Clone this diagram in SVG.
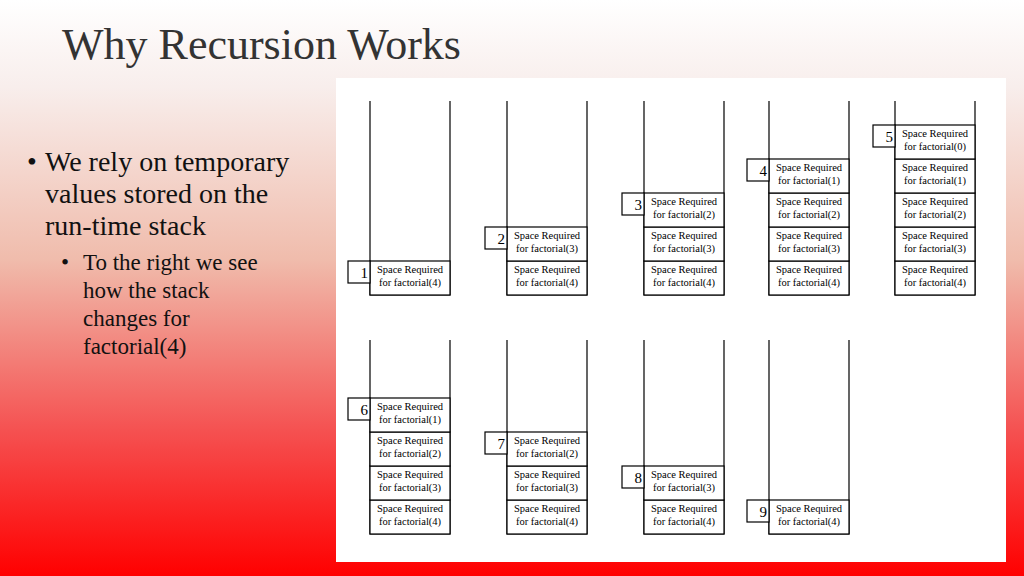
<svg xmlns="http://www.w3.org/2000/svg" width="1024" height="576" viewBox="0 0 1024 576">
<defs>
<linearGradient id="bg" x1="0" y1="0" x2="0" y2="1">
<stop offset="0" stop-color="#ffffff"/>
<stop offset="0.15" stop-color="#f8eeec"/>
<stop offset="0.45" stop-color="#f0bcac"/>
<stop offset="0.75" stop-color="#f55050"/>
<stop offset="1" stop-color="#ff0000"/>
</linearGradient>
<style>
.st{fill:none;stroke:#000;stroke-width:1.2}
.cell{fill:#fff;stroke:#000;stroke-width:1.2}
.ct{font-family:"Liberation Serif",serif;font-size:10.5px;fill:#000;text-anchor:middle}
.nb{fill:#fff;stroke:#000;stroke-width:1.2}
.nt{font-family:"Liberation Serif",serif;font-size:15px;fill:#000;text-anchor:end}
.b1{font-family:"Liberation Serif",serif;font-size:28px;fill:#111}
.b2{font-family:"Liberation Serif",serif;font-size:23px;fill:#111}
</style>
</defs>
<rect width="1024" height="576" fill="url(#bg)"/>
<text x="62" y="59" font-family="Liberation Serif,serif" font-size="44" fill="#333">Why Recursion Works</text>
<g id="bullets">
<text class="b1" x="27" y="171">•</text>
<text class="b1" x="45" y="171">We rely on temporary</text>
<text class="b1" x="45" y="203">values stored on the</text>
<text class="b1" x="45" y="235">run-time stack</text>
<text class="b2" x="61" y="270">•</text>
<text class="b2" x="83" y="270">To the right we see</text>
<text class="b2" x="83" y="298">how the stack</text>
<text class="b2" x="83" y="326">changes for</text>
<text class="b2" x="83" y="354">factorial(4)</text>
</g>
<rect x="336" y="78" width="670" height="484" fill="#fff"/>
<g id="connectors"></g>
<!-- top row -->
<g id="s1"><path class="st" d="M370 101V295H450V101"/>
<rect class="cell" x="370" y="261" width="80" height="34"/><text class="ct" x="410" y="273">Space  Required</text><text class="ct" x="410" y="286">for factorial(4)</text>
<rect class="nb" x="348" y="261" width="22" height="22"/><text class="nt" x="368" y="278">1</text></g>
<g id="s2"><path class="st" d="M507 101V295H587V101"/>
<rect class="cell" x="507" y="261" width="80" height="34"/><text class="ct" x="547" y="273">Space  Required</text><text class="ct" x="547" y="286">for factorial(4)</text>
<rect class="cell" x="507" y="227" width="80" height="34"/><text class="ct" x="547" y="239">Space  Required</text><text class="ct" x="547" y="252">for factorial(3)</text>
<rect class="nb" x="485" y="227" width="22" height="22"/><text class="nt" x="505" y="244">2</text></g>
<g id="s3"><path class="st" d="M644 101V295H724V101"/>
<rect class="cell" x="644" y="261" width="80" height="34"/><text class="ct" x="684" y="273">Space  Required</text><text class="ct" x="684" y="286">for factorial(4)</text>
<rect class="cell" x="644" y="227" width="80" height="34"/><text class="ct" x="684" y="239">Space  Required</text><text class="ct" x="684" y="252">for factorial(3)</text>
<rect class="cell" x="644" y="193" width="80" height="34"/><text class="ct" x="684" y="205">Space  Required</text><text class="ct" x="684" y="218">for factorial(2)</text>
<rect class="nb" x="622" y="193" width="22" height="22"/><text class="nt" x="642" y="210">3</text></g>
<g id="s4"><path class="st" d="M769 101V295H849V101"/>
<rect class="cell" x="769" y="261" width="80" height="34"/><text class="ct" x="809" y="273">Space  Required</text><text class="ct" x="809" y="286">for factorial(4)</text>
<rect class="cell" x="769" y="227" width="80" height="34"/><text class="ct" x="809" y="239">Space  Required</text><text class="ct" x="809" y="252">for factorial(3)</text>
<rect class="cell" x="769" y="193" width="80" height="34"/><text class="ct" x="809" y="205">Space  Required</text><text class="ct" x="809" y="218">for factorial(2)</text>
<rect class="cell" x="769" y="159" width="80" height="34"/><text class="ct" x="809" y="171">Space  Required</text><text class="ct" x="809" y="184">for factorial(1)</text>
<rect class="nb" x="747" y="159" width="22" height="22"/><text class="nt" x="767" y="176">4</text></g>
<g id="s5"><path class="st" d="M895 101V295H975V101"/>
<rect class="cell" x="895" y="261" width="80" height="34"/><text class="ct" x="935" y="273">Space  Required</text><text class="ct" x="935" y="286">for factorial(4)</text>
<rect class="cell" x="895" y="227" width="80" height="34"/><text class="ct" x="935" y="239">Space  Required</text><text class="ct" x="935" y="252">for factorial(3)</text>
<rect class="cell" x="895" y="193" width="80" height="34"/><text class="ct" x="935" y="205">Space  Required</text><text class="ct" x="935" y="218">for factorial(2)</text>
<rect class="cell" x="895" y="159" width="80" height="34"/><text class="ct" x="935" y="171">Space  Required</text><text class="ct" x="935" y="184">for factorial(1)</text>
<rect class="cell" x="895" y="125" width="80" height="34"/><text class="ct" x="935" y="137">Space  Required</text><text class="ct" x="935" y="150">for factorial(0)</text>
<rect class="nb" x="873" y="125" width="22" height="22"/><text class="nt" x="893" y="142">5</text></g>
<!-- bottom row -->
<g id="s6"><path class="st" d="M370 340V534H450V340"/>
<rect class="cell" x="370" y="500" width="80" height="34"/><text class="ct" x="410" y="512">Space  Required</text><text class="ct" x="410" y="525">for factorial(4)</text>
<rect class="cell" x="370" y="466" width="80" height="34"/><text class="ct" x="410" y="478">Space  Required</text><text class="ct" x="410" y="491">for factorial(3)</text>
<rect class="cell" x="370" y="432" width="80" height="34"/><text class="ct" x="410" y="444">Space  Required</text><text class="ct" x="410" y="457">for factorial(2)</text>
<rect class="cell" x="370" y="398" width="80" height="34"/><text class="ct" x="410" y="410">Space  Required</text><text class="ct" x="410" y="423">for factorial(1)</text>
<rect class="nb" x="348" y="398" width="22" height="22"/><text class="nt" x="368" y="415">6</text></g>
<g id="s7"><path class="st" d="M507 340V534H587V340"/>
<rect class="cell" x="507" y="500" width="80" height="34"/><text class="ct" x="547" y="512">Space  Required</text><text class="ct" x="547" y="525">for factorial(4)</text>
<rect class="cell" x="507" y="466" width="80" height="34"/><text class="ct" x="547" y="478">Space  Required</text><text class="ct" x="547" y="491">for factorial(3)</text>
<rect class="cell" x="507" y="432" width="80" height="34"/><text class="ct" x="547" y="444">Space  Required</text><text class="ct" x="547" y="457">for factorial(2)</text>
<rect class="nb" x="485" y="432" width="22" height="22"/><text class="nt" x="505" y="449">7</text></g>
<g id="s8"><path class="st" d="M644 340V534H724V340"/>
<rect class="cell" x="644" y="500" width="80" height="34"/><text class="ct" x="684" y="512">Space  Required</text><text class="ct" x="684" y="525">for factorial(4)</text>
<rect class="cell" x="644" y="466" width="80" height="34"/><text class="ct" x="684" y="478">Space  Required</text><text class="ct" x="684" y="491">for factorial(3)</text>
<rect class="nb" x="622" y="466" width="22" height="22"/><text class="nt" x="642" y="483">8</text></g>
<g id="s9"><path class="st" d="M769 340V534H849V340"/>
<rect class="cell" x="769" y="500" width="80" height="34"/><text class="ct" x="809" y="512">Space  Required</text><text class="ct" x="809" y="525">for factorial(4)</text>
<rect class="nb" x="747" y="500" width="22" height="22"/><text class="nt" x="767" y="517">9</text></g>
</svg>
